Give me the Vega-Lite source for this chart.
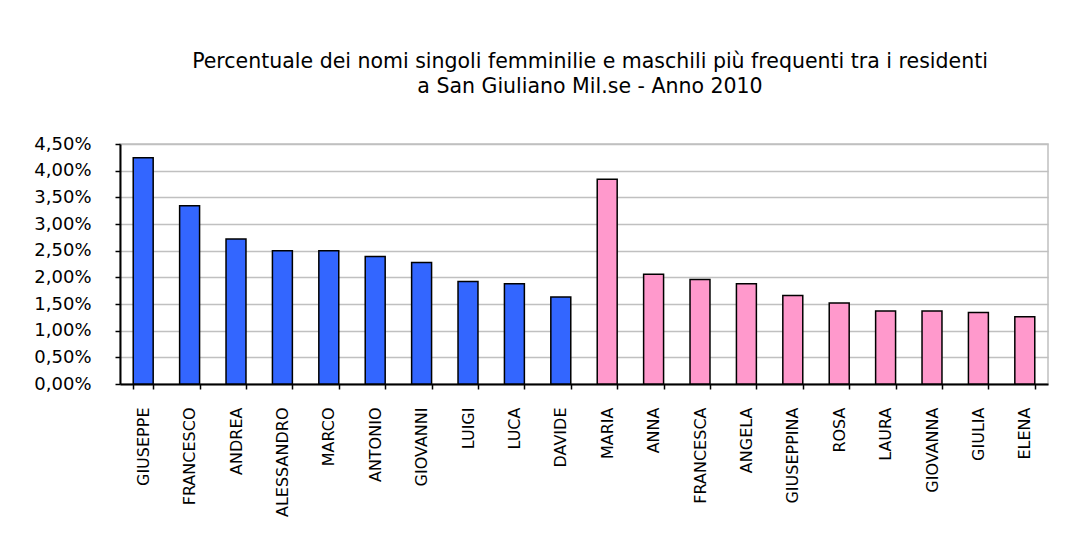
{
  "$schema": "https://vega.github.io/schema/vega-lite/v6.json",
  "autosize": "none",
  "padding": {"left": 120, "top": 144, "right": 40, "bottom": 166},
  "width": 928,
  "height": 240,
  "background": "white",
  "title": {
    "text": ["Percentuale dei nomi singoli femminilie e maschili più frequenti tra i residenti", "a San Giuliano Mil.se - Anno 2010"],
    "font": "DejaVu Sans",
    "fontSize": 20.5,
    "fontWeight": "normal",
    "color": "black",
    "anchor": "middle",
    "dx": 6,
    "lineHeight": 25,
    "offset": 38
  },
  "config": {
    "view": {"stroke": "#C0C0C0", "strokeWidth": 1.5},
    "axis": {"labelFont": "DejaVu Sans", "labelFontSize": 16, "labelColor": "black"}
  },
  "data": {
    "values": [
      {"nome": "GIUSEPPE", "sesso": "M", "perc": 0.0424},
      {"nome": "FRANCESCO", "sesso": "M", "perc": 0.0334},
      {"nome": "ANDREA", "sesso": "M", "perc": 0.0272},
      {"nome": "ALESSANDRO", "sesso": "M", "perc": 0.0250},
      {"nome": "MARCO", "sesso": "M", "perc": 0.0250},
      {"nome": "ANTONIO", "sesso": "M", "perc": 0.0239},
      {"nome": "GIOVANNI", "sesso": "M", "perc": 0.0228},
      {"nome": "LUIGI", "sesso": "M", "perc": 0.0192},
      {"nome": "LUCA", "sesso": "M", "perc": 0.0188},
      {"nome": "DAVIDE", "sesso": "M", "perc": 0.0163},
      {"nome": "MARIA", "sesso": "F", "perc": 0.0384},
      {"nome": "ANNA", "sesso": "F", "perc": 0.0206},
      {"nome": "FRANCESCA", "sesso": "F", "perc": 0.0196},
      {"nome": "ANGELA", "sesso": "F", "perc": 0.0188},
      {"nome": "GIUSEPPINA", "sesso": "F", "perc": 0.0166},
      {"nome": "ROSA", "sesso": "F", "perc": 0.0152},
      {"nome": "LAURA", "sesso": "F", "perc": 0.0137},
      {"nome": "GIOVANNA", "sesso": "F", "perc": 0.0137},
      {"nome": "GIULIA", "sesso": "F", "perc": 0.0134},
      {"nome": "ELENA", "sesso": "F", "perc": 0.0126}
    ]
  },
  "mark": {"type": "bar", "stroke": "black", "strokeWidth": 1.5},
  "encoding": {
    "x": {
      "field": "nome",
      "type": "nominal",
      "sort": null,
      "scale": {"paddingInner": 0.57, "paddingOuter": 0.285},
      "axis": {
        "title": null,
        "labelAngle": -90,
        "labelPadding": 18,
        "domainColor": "black",
        "domainWidth": 2,
        "tickColor": "black",
        "tickWidth": 1.5,
        "tickSize": 5,
        "tickBand": "extent",
        "grid": false
      }
    },
    "y": {
      "field": "perc",
      "type": "quantitative",
      "scale": {"domain": [0, 0.045], "nice": false},
      "axis": {
        "title": null,
        "values": [0, 0.005, 0.01, 0.015, 0.02, 0.025, 0.03, 0.035, 0.04, 0.045],
        "labelExpr": "replace(format(datum.value * 100, '.2f'), '.', ',') + '%'",
        "labelFontSize": 18,
        "labelPadding": 24,
        "domainColor": "black",
        "domainWidth": 2,
        "tickColor": "black",
        "tickWidth": 1.5,
        "tickSize": 5,
        "gridColor": "#C0C0C0",
        "gridWidth": 1.5
      }
    },
    "color": {
      "field": "sesso",
      "type": "nominal",
      "scale": {"domain": ["M", "F"], "range": ["#3366FF", "#FF99CC"]},
      "legend": null
    }
  }
}
